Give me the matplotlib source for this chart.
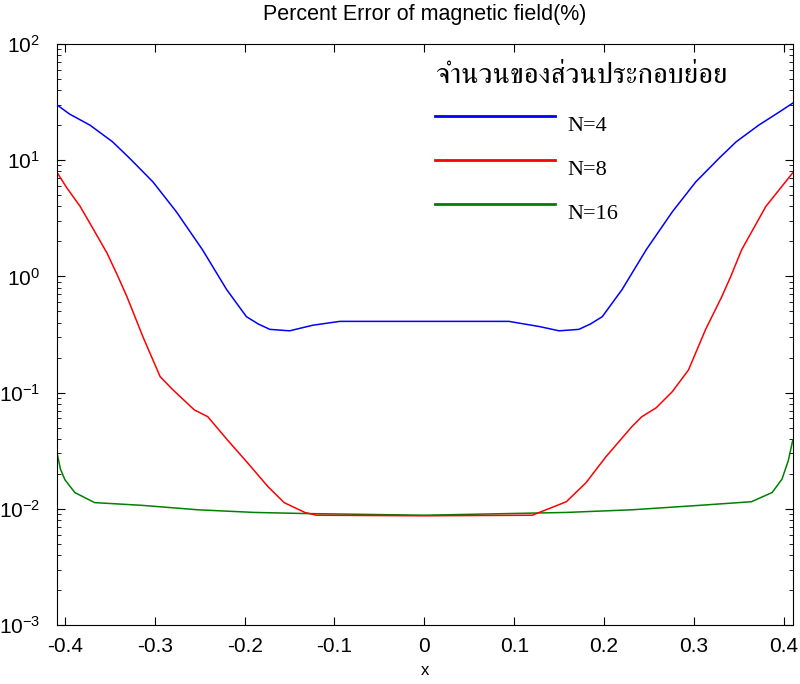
import numpy as np
import matplotlib
matplotlib.use('Agg')
import matplotlib.pyplot as plt
from matplotlib import font_manager
from matplotlib.ft2font import FT2Font
from matplotlib.ticker import LogLocator, NullFormatter

# values
x_n4 = [-0.409, -0.395, -0.372, -0.347, -0.328, -0.302, -0.276, -0.247, -0.22, -0.198,
        -0.185, -0.172, -0.15, -0.124, -0.094, 0.0, 0.094, 0.128, 0.15, 0.172,
        0.185, 0.198, 0.22, 0.247, 0.276, 0.302, 0.328, 0.347, 0.372, 0.395, 0.41]
y_n4 = [30.0, 25.0, 20.0, 14.4, 10.4, 6.5, 3.6, 1.7, 0.77, 0.45,
        0.39, 0.35, 0.34, 0.38, 0.41, 0.41, 0.41, 0.37, 0.34, 0.35,
        0.39, 0.45, 0.77, 1.7, 3.6, 6.5, 10.4, 14.4, 20.0, 26.0, 31.0]

x_n8 = [-0.409, -0.398, -0.383, -0.369, -0.353, -0.341, -0.331, -0.313, -0.294, -0.28,
        -0.256, -0.241, -0.219, -0.197, -0.174, -0.156, -0.133, -0.12, 0.0, 0.12,
        0.128, 0.158, 0.18, 0.202, 0.231, 0.242, 0.258, 0.276, 0.294, 0.313,
        0.32, 0.331, 0.341, 0.353, 0.38, 0.41]
y_n8 = [7.9, 5.8, 4.0, 2.6, 1.58, 1.0, 0.67, 0.30, 0.137, 0.106,
        0.071, 0.062, 0.039, 0.025, 0.0155, 0.0113, 0.0093, 0.0088, 0.0087, 0.0088,
        0.0093, 0.0115, 0.0168, 0.028, 0.051, 0.062, 0.074, 0.102, 0.157, 0.35,
        0.45, 0.67, 1.0, 1.69, 4.0, 7.8]

x_n16 = [-0.409, -0.405, -0.4, -0.389, -0.367, -0.314, -0.252, -0.189, -0.133, 0.0,
         0.158, 0.231, 0.306, 0.364, 0.387, 0.398, 0.405, 0.41]
y_n16 = [0.031, 0.022, 0.0178, 0.0138, 0.0113, 0.0107, 0.0098, 0.0093, 0.0091, 0.0088,
         0.0093, 0.0098, 0.0107, 0.0115, 0.0138, 0.018, 0.026, 0.039]

labels = ['N=4', 'N=8', 'N=16']
legend_title = 'จำนวนของส่วนประกอบย่อย'
xticks = [-0.4, -0.3, -0.2, -0.1, 0, 0.1, 0.2, 0.3, 0.4]


def thai_font():
    # look for any installed font that has Thai glyphs, serif ones first
    fonts = sorted(font_manager.fontManager.ttflist,
                   key=lambda f: ('Serif' not in f.name, f.name))
    for f in fonts:
        try:
            if 0x0E08 in FT2Font(f.fname).get_charmap():
                return f.name
        except Exception:
            pass
    return 'DejaVu Sans'


plt.rcParams['font.family'] = ['Liberation Sans', 'DejaVu Sans']
plt.rcParams['mathtext.fontset'] = 'custom'
plt.rcParams['mathtext.rm'] = 'Liberation Sans'
plt.rcParams['axes.unicode_minus'] = False

fig = plt.figure(figsize=(8, 6.84), dpi=100)
ax = fig.add_axes([0.071, 0.0863, 0.92, 0.8494])

ax.plot(x_n4, y_n4, color=(0, 0, 1), lw=1.1, label=labels[0], zorder=3)
ax.plot(x_n8, y_n8, color=(1, 0, 0), lw=1.1, label=labels[1], zorder=2.5)
ax.plot(x_n16, y_n16, color=(0, 0.5, 0), lw=1.1, label=labels[2], zorder=2)

ax.set_yscale('log')
ax.set_xlim(-0.409, 0.41)
ax.set_ylim(1e-3, 1e2)
ax.set_xticks(xticks)
ax.set_xticklabels(['%g' % t for t in xticks])
ax.yaxis.set_minor_locator(LogLocator(base=10, subs=np.arange(2, 10)))
ax.yaxis.set_minor_formatter(NullFormatter())
ax.tick_params(which='both', direction='in', top=True, right=True, labelsize=15)
ax.tick_params(axis='x', pad=9)
ax.tick_params(axis='y', pad=12)
ax.tick_params(which='major', length=6)
ax.tick_params(which='minor', length=3)

ax.set_title('Percent Error of magnetic field(%)', fontsize=15.5, pad=17)
ax.set_xlabel('x', fontsize=12, labelpad=5)

leg = ax.legend(loc='upper left', bbox_to_anchor=(0.514, 0.966), frameon=False,
                title=legend_title, handlelength=5.4, handletextpad=0.55,
                labelspacing=1.05, borderpad=0, borderaxespad=0,
                prop={'family': 'Liberation Serif', 'size': 16}, alignment='left')
leg.get_title().set_fontfamily([thai_font(), 'DejaVu Sans'])
leg.get_title().set_fontsize(20.8)
for line in leg.get_lines():
    line.set_linewidth(2)
# labels sit a little below their sample lines, as in the original
for t in leg.get_texts():
    t.set_y(-7)
leg._legend_box.sep = 14

fig.savefig('out.png', dpi=100)
